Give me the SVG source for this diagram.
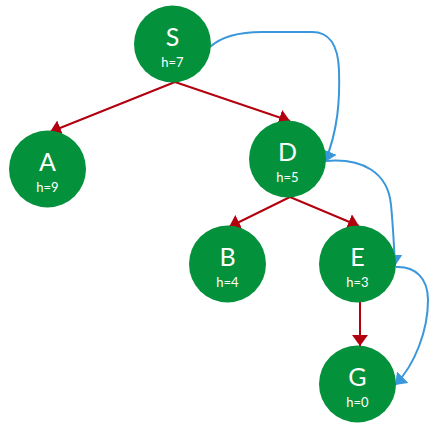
<svg xmlns="http://www.w3.org/2000/svg" width="437" height="429" viewBox="0 0 437 429">
<style>
.node circle{fill:#03913B}
.lbl{font-family:Lato,"Open Sans",sans-serif;fill:#fff;text-anchor:middle;font-size:25px}
.h{font-family:Lato,"Open Sans",sans-serif;fill:#fff;text-anchor:middle;font-size:13px}
.tree{stroke:#B3000F;stroke-width:2;fill:none}
.srch{stroke:#3A97DB;stroke-width:2;fill:none}
</style>
<defs>
<marker id="ar" markerUnits="userSpaceOnUse" viewBox="0 0 11 16" markerWidth="11" markerHeight="16" refX="11" refY="8" orient="auto"><path d="M0,0 L11,8 L0,16 z" fill="#B3000F"/></marker>
<marker id="ab" markerUnits="userSpaceOnUse" viewBox="0 0 11 16" markerWidth="11" markerHeight="16" refX="11" refY="8" orient="auto"><path d="M0,0 L11,8 L0,16 z" fill="#3A97DB"/></marker>
</defs>
<g id="connectors">
<path class="tree" d="M175,82 L50,132" marker-end="url(#ar)"/>
<path class="tree" d="M175,82 L290,121" marker-end="url(#ar)"/>
<path class="tree" d="M290,197 L229,227" marker-end="url(#ar)"/>
<path class="tree" d="M290,197 L359,226" marker-end="url(#ar)"/>
<path class="tree" d="M360,302 L360,346" marker-end="url(#ar)"/>
<path class="srch" d="M210,47 C222,36 240,32 262,32 L312,32 C330,32 338,45 339,70 C340,100 338,130 325,162" marker-end="url(#ab)"/>
<path class="srch" d="M326,161 C362,158 388,172 391,205 C393,225 394,245 395,266" marker-end="url(#ab)"/>
<path class="srch" d="M396,267 C415,266 428,278 428,300 C428,330 415,365 395,385" marker-end="url(#ab)"/>
</g>
<g id="S" class="node"><circle cx="172.5" cy="44" r="38.5"/><text class="lbl" x="172.5" y="45.5">S</text><text class="h" x="172.5" y="66.5">h=7</text></g>
<g id="A" class="node"><circle cx="47.5" cy="169" r="38.5"/><text class="lbl" x="47.5" y="170.5">A</text><text class="h" x="47.5" y="191.5">h=9</text></g>
<g id="D" class="node"><circle cx="287.5" cy="159" r="38.5"/><text class="lbl" x="287.5" y="160.5">D</text><text class="h" x="287.5" y="181.5">h=5</text></g>
<g id="B" class="node"><circle cx="227.5" cy="264" r="38.5"/><text class="lbl" x="227.5" y="265.5">B</text><text class="h" x="227.5" y="286.5">h=4</text></g>
<g id="E" class="node"><circle cx="357.5" cy="264" r="38.5"/><text class="lbl" x="357.5" y="265.5">E</text><text class="h" x="357.5" y="286.5">h=3</text></g>
<g id="G" class="node"><circle cx="357.5" cy="384" r="38.5"/><text class="lbl" x="357.5" y="385.5">G</text><text class="h" x="357.5" y="406.5">h=0</text></g>
</svg>
